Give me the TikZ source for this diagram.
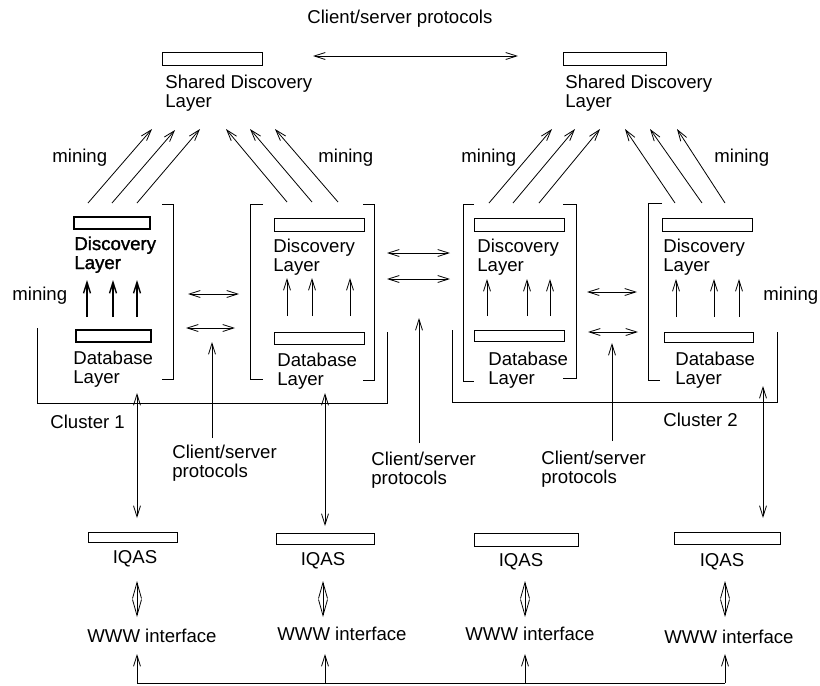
\documentclass[tikz,border=0pt]{standalone}
\usepackage{fontspec}
\setmainfont{Liberation Sans}
\newfontfamily\boldish[FakeBold=1.5]{Liberation Sans}
\usetikzlibrary{arrows.meta}
\begin{document}
\begin{tikzpicture}[x=1pt,y=-1pt,line width=0.8pt,
  >={Straight Barb[length=11pt,width=7pt]},
  box/.style={draw,line width=0.8pt,inner sep=0pt,outer sep=0pt,anchor=north west},
  thickbox/.style={box,line width=1.4pt},
  lbl/.style={anchor=base west,inner sep=0pt,align=left,font=\fontsize{18.6}{19}\selectfont},
  ml/.style={lbl,yshift=-19pt},
  thick/.style={line width=1.4pt},
  dia/.style={{Straight Barb[length=16pt,width=9pt]}-{Straight Barb[length=16pt,width=9pt]}}]
\useasboundingbox (0,0) rectangle (820,686);

% ---------- top level ----------
\node[lbl] (topcs) at (307,23.5) {Client/server protocols};
\node[box,minimum width=100pt,minimum height=13pt] (sd1) at (162,52) {};
\node[ml] (sd1t) at (165,88.5) {Shared Discovery\\Layer};
\node[box,minimum width=103pt,minimum height=13pt] (sd2) at (563,52) {};
\node[ml] (sd2t) at (565,88.5) {Shared Discovery\\Layer};
\coordinate (tA) at (313,56); \coordinate (tB) at (518,56);
\draw[<->] (tA) -- (tB);

% mining arrows to shared layers
\foreach \i/\xa/\ya/\xb/\yb in {1/88/203/152/129,2/112/203/175/130,3/137/203/200/129,
  4/287/202/226/129,5/312/202/250/129,6/338/202/275/129,
  7/489/203/552/129,8/513/203/575/129,9/539/203/600/129,
  10/675/203/625/129,11/702/203/650/129,12/725/203/677/129}{
  \coordinate (m\i a) at (\xa,\ya); \coordinate (m\i b) at (\xb,\yb);
  \draw[->] (m\i a) -- (m\i b);
}
\node[lbl] (mn1) at (52,162) {mining};
\node[lbl] (mn2) at (318,162) {mining};
\node[lbl] (mn3) at (461,162) {mining};
\node[lbl] (mn4) at (714,162) {mining};

% ---------- column 1 ----------
\node[thickbox,minimum width=76pt,minimum height=12pt] (d1) at (74,217) {};
\node[ml,font=\fontsize{18.6}{19}\boldish] (d1t) at (74,250) {Discovery\\Layer};
\node[thickbox,minimum width=75pt,minimum height=12pt] (db1) at (76,330) {};
\node[ml] (db1t) at (73,364) {Database\\Layer};
\foreach \x in {87,113,137}{
  \coordinate (u1a\x) at (\x,317); \coordinate (u1b\x) at (\x,280);
  \draw[->,thick] (u1a\x) -- (u1b\x);
}
\node[lbl] (mnl) at (12,300.5) {mining};
\draw (162,204) -- (173,204) -- (173,379) -- (162,379);

% ---------- column 2 ----------
\node[box,minimum width=90pt,minimum height=13pt] (d2) at (274,218) {};
\node[ml] (d2t) at (273,252) {Discovery\\Layer};
\node[box,minimum width=90pt,minimum height=12pt] (db2) at (274,332) {};
\node[ml] (db2t) at (277,366) {Database\\Layer};
\foreach \x in {287,312,350}{
  \coordinate (u2a\x) at (\x,316); \coordinate (u2b\x) at (\x,278);
  \draw[->] (u2a\x) -- (u2b\x);
}
\draw (263,204) -- (250,204) -- (250,379) -- (263,379);
\draw (363,204) -- (374,204) -- (374,380) -- (363,380);

% ---------- column 3 ----------
\node[box,minimum width=90pt,minimum height=13pt] (d3) at (474,218) {};
\node[ml] (d3t) at (477,252) {Discovery\\Layer};
\node[box,minimum width=90pt,minimum height=11pt] (db3) at (474,330) {};
\node[ml] (db3t) at (488,365) {Database\\Layer};
\foreach \x in {487,527,550}{
  \coordinate (u3a\x) at (\x,316); \coordinate (u3b\x) at (\x,279);
  \draw[->] (u3a\x) -- (u3b\x);
}
\draw (474,204) -- (463,204) -- (463,381) -- (474,381);
\draw (563,204) -- (576,204) -- (576,378) -- (563,378);

% ---------- column 4 ----------
\node[box,minimum width=90pt,minimum height=13pt] (d4) at (662,218) {};
\node[ml] (d4t) at (663,252) {Discovery\\Layer};
\node[box,minimum width=89pt,minimum height=10pt] (db4) at (664,332) {};
\node[ml] (db4t) at (675,365) {Database\\Layer};
\foreach \x in {676,714,739}{
  \coordinate (u4a\x) at (\x,317); \coordinate (u4b\x) at (\x,279);
  \draw[->] (u4a\x) -- (u4b\x);
}
\node[lbl] (mnr) at (763,300) {mining};
\draw (662,203) -- (648,203) -- (648,380) -- (660,380);

% ---------- horizontal peer arrows ----------
\foreach \i/\xa/\xb/\y in {1/188/239/294,2/186/235/328,3/387/450/253,4/387/450/279,5/587/637/292,6/588/638/332}{
  \coordinate (h\i a) at (\xa,\y); \coordinate (h\i b) at (\xb,\y);
  \draw[<->] (h\i a) -- (h\i b);
}

% ---------- clusters ----------
\draw (37,328) -- (37,403) -- (387,403) -- (387,332);
\draw (452,330) -- (452,402) -- (777,402) -- (777,332);
\node[lbl] (cl1) at (50,428.5) {Cluster 1};
\node[lbl] (cl2) at (663,426.5) {Cluster 2};

% ---------- client/server labels ----------
\node[ml] (cs1) at (172,458.5) {Client/server\\protocols};
\node[ml] (cs2) at (371,465) {Client/server\\protocols};
\node[ml] (cs3) at (541,464) {Client/server\\protocols};
\coordinate (cs1a) at (212,438); \coordinate (cs1b) at (212,342);
\coordinate (cs2a) at (419,443); \coordinate (cs2b) at (419,318);
\coordinate (cs3a) at (612,441); \coordinate (cs3b) at (612,343);
\draw[->] (cs1a) -- (cs1b);
\draw[->] (cs2a) -- (cs2b);
\draw[->] (cs3a) -- (cs3b);

% ---------- IQAS ----------
\node[box,minimum width=89pt,minimum height=10pt] (iq1) at (88,532) {};
\node[box,minimum width=98pt,minimum height=11pt] (iq2) at (276,533) {};
\node[box,minimum width=104pt,minimum height=13pt] (iq3) at (474,533) {};
\node[box,minimum width=106pt,minimum height=12pt] (iq4) at (674,532) {};
\node[lbl,anchor=base] (iq1t) at (135,563) {IQAS};
\node[lbl,anchor=base] (iq2t) at (323,565) {IQAS};
\node[lbl,anchor=base] (iq3t) at (521,566) {IQAS};
\node[lbl,anchor=base] (iq4t) at (722,566) {IQAS};

% cluster <-> IQAS
\coordinate (c1a) at (137,393); \coordinate (c1b) at (137,518);
\coordinate (c2a) at (325,393); \coordinate (c2b) at (325,526);
\coordinate (c3a) at (763,386); \coordinate (c3b) at (763,518);
\draw[<->] (c1a) -- (c1b);
\draw[<->] (c2a) -- (c2b);
\draw[<->] (c3a) -- (c3b);

% ---------- WWW ----------
\node[lbl] (w1) at (87,642) {WWW interface};
\node[lbl] (w2) at (277,640) {WWW interface};
\node[lbl] (w3) at (465,640) {WWW interface};
\node[lbl] (w4) at (664,643) {WWW interface};
\foreach \i/\x in {1/137,2/323,3/525,4/725}{
  \coordinate (iw\i a) at (\x,581); \coordinate (iw\i b) at (\x,617);
  \draw[dia] (iw\i a) -- (iw\i b);
}
\foreach \i/\x in {1/137,2/325,3/525,4/725}{
  \coordinate (bw\i a) at (\x,683); \coordinate (bw\i b) at (\x,654);
  \draw[->] (bw\i a) -- (bw\i b);
}
\draw (bw1a) -- (bw4a);
\end{tikzpicture}
\end{document}
